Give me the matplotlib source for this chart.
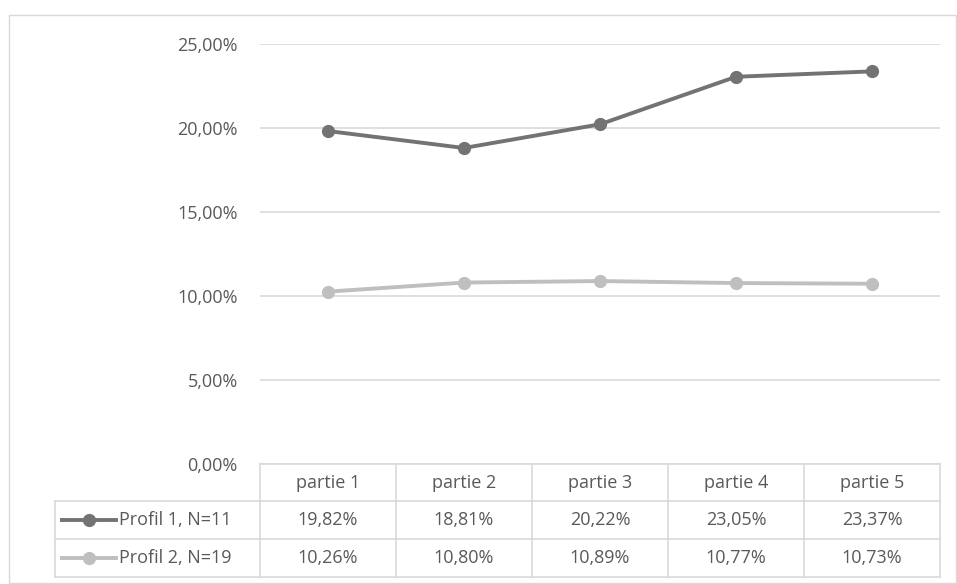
import matplotlib
matplotlib.use("Agg")
import matplotlib.pyplot as plt
from matplotlib.lines import Line2D
from matplotlib.patches import Rectangle

categories = ["partie 1", "partie 2", "partie 3", "partie 4", "partie 5"]
series_names = ["Profil 1, N=11", "Profil 2, N=19"]
profil1 = [19.82, 18.81, 20.22, 23.05, 23.37]
profil2 = [10.26, 10.80, 10.89, 10.77, 10.73]
yticks = [0, 5, 10, 15, 20, 25]
colors = ["#737373", "#bfbfbf"]
text_color = "#595959"
grid_color = "#d9d9d9"

plt.rcParams['font.family'] = ['Open Sans', 'DejaVu Sans']

W, H = 957, 584
fig = plt.figure(figsize=(W / 100, H / 100), dpi=100)

def fx(px):
    return px / W

def fy(py):
    return 1 - py / H

# outer border
fig.patches.append(Rectangle((fx(9), fy(583)), fx(947), (583 - 15) / H,
                             transform=fig.transFigure, fill=False,
                             edgecolor="#d9d9d9", linewidth=1))

left, right, top, bottom = 260, 940, 44, 464
ax = fig.add_axes([fx(left), fy(bottom), fx(right - left), (bottom - top) / H])
x = list(range(1, len(categories) + 1))
for vals, c in zip([profil1, profil2], colors):
    ax.plot(x, vals, color=c, linewidth=2.8, marker="o", markersize=8.5,
            solid_capstyle="round", zorder=3)
ax.set_xlim(0.5, len(categories) + 0.5)
ax.set_ylim(0, 25)
ax.set_yticks(yticks)
ax.set_yticklabels([f"{v:.2f}".replace(".", ",") + "%" for v in yticks],
                   fontsize=13, color=text_color)
ax.tick_params(axis="y", length=0, pad=16)
ax.set_xticks([])
for s in ax.spines.values():
    s.set_visible(False)
ax.yaxis.grid(True, color=grid_color, linewidth=1.2)
ax.set_axisbelow(True)

# data table
col_w = (right - left) / len(categories)
rows_y = [464, 501, 539, 577]
legend_left = 55
lc = "#d9d9d9"

def hline(x0, x1, y):
    fig.add_artist(Line2D([fx(x0), fx(x1)], [fy(y), fy(y)], color=lc, linewidth=1.2))

def vline(xp, y0, y1):
    fig.add_artist(Line2D([fx(xp), fx(xp)], [fy(y0), fy(y1)], color=lc, linewidth=1.2))

hline(left, right, rows_y[0])
for yy in rows_y[1:]:
    hline(legend_left, right, yy)
for i in range(len(categories) + 1):
    vline(left + i * col_w, rows_y[0], rows_y[-1])
vline(legend_left, rows_y[1], rows_y[-1])

for i, cat in enumerate(categories):
    cx = left + (i + 0.5) * col_w
    fig.text(fx(cx), fy((rows_y[0] + rows_y[1]) / 2), cat, ha="center", va="center",
             fontsize=13, color=text_color)

for r, (name, vals, c) in enumerate(zip(series_names, [profil1, profil2], colors)):
    cy = (rows_y[r + 1] + rows_y[r + 2]) / 2
    for i, v in enumerate(vals):
        cx = left + (i + 0.5) * col_w
        fig.text(fx(cx), fy(cy), f"{v:.2f}".replace(".", ",") + "%", ha="center",
                 va="center", fontsize=13, color=text_color)
    fig.add_artist(Line2D([fx(62), fx(116)], [fy(cy), fy(cy)], color=c, linewidth=2.8))
    fig.add_artist(Line2D([fx(89)], [fy(cy)], color=c, marker="o", markersize=8.5,
                          linestyle="none"))
    fig.text(fx(119), fy(cy), name, ha="left", va="center", fontsize=13, color=text_color)

fig.savefig("out.png", dpi=100)
